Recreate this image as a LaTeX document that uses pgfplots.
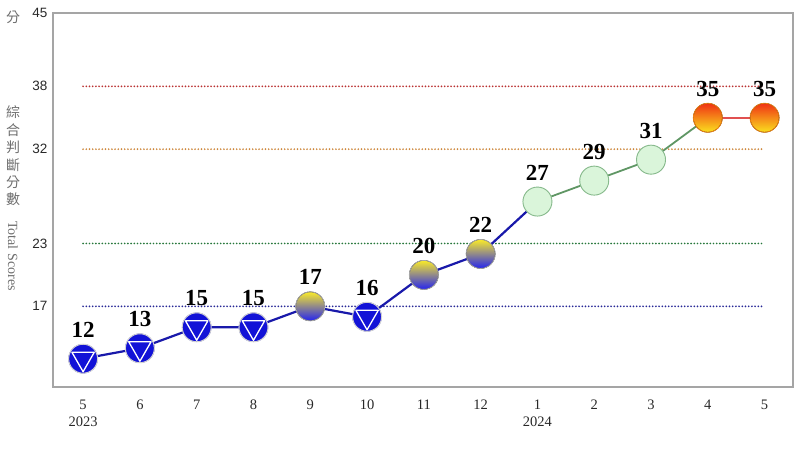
\documentclass[border=0pt]{standalone}
\usepackage{pgfplots}
\pgfplotsset{compat=1.18}
\usepackage{fontspec}
\setmainfont{Liberation Serif}
\newfontfamily\sansf{Liberation Sans}
\newfontfamily\cjk{Noto Sans CJK TC}
\definecolor{axgray}{RGB}{165,165,165}
\definecolor{txt}{RGB}{40,40,40}
\definecolor{lab}{RGB}{110,110,110}
\definecolor{cblue}{RGB}{18,18,215}
\definecolor{lblue}{RGB}{25,25,170}
\definecolor{lgreen}{RGB}{95,150,100}
\definecolor{lred}{RGB}{225,80,80}
\definecolor{h38}{RGB}{185,50,50}
\definecolor{h32}{RGB}{205,135,60}
\definecolor{h23}{RGB}{40,120,60}
\definecolor{h17}{RGB}{40,40,150}
\definecolor{mgreen}{RGB}{218,245,218}
\definecolor{mgreenb}{RGB}{135,185,140}
\definecolor{myellow}{RGB}{250,235,40}
\definecolor{mblueb}{RGB}{35,35,240}
\definecolor{mred}{RGB}{240,50,20}
\definecolor{myel2}{RGB}{250,225,30}
\newcommand\mkblue{%
  \fill[cblue] (canvas cs:x=0pt,y=0pt) circle (14.5pt);
  \draw[gray!35, line width=1pt] (canvas cs:x=0pt,y=0pt) circle (14.5pt);
  \draw[white, line width=1.3pt, line join=round] (canvas cs:x=-11.2pt,y=6.5pt) -- (canvas cs:x=11.2pt,y=6.5pt) -- (canvas cs:x=0pt,y=-13pt) -- cycle;}
\newcommand\mkyb{%
  \shade[top color=myellow, middle color=white!88!gray, bottom color=mblueb] (canvas cs:x=0pt,y=0pt) circle (14.5pt);
  \draw[gray!70, line width=0.8pt] (canvas cs:x=0pt,y=0pt) circle (14.5pt);}
\newcommand\mkgreen{%
  \fill[mgreen] (canvas cs:x=0pt,y=0pt) circle (14.5pt);
  \draw[mgreenb, line width=0.9pt] (canvas cs:x=0pt,y=0pt) circle (14.5pt);}
\newcommand\mkred{%
  \shade[top color=mred, middle color=orange!90!yellow, bottom color=myel2] (canvas cs:x=0pt,y=0pt) circle (14.5pt);
  \draw[orange!70!brown, line width=0.8pt] (canvas cs:x=0pt,y=0pt) circle (14.5pt);}
\pgfplotsset{
  mk/.style={only marks, scatter, mark=*, mark size=0.01pt,
    scatter/@pre marker code/.code={}},
  hl/.style={line width=1.9pt, line cap=round, dash pattern=on 0pt off 3.2pt},
}
\begin{document}
\begin{tikzpicture}
\useasboundingbox (0,0) rectangle (800pt,450pt);
\begin{axis}[
  at={(53pt,63pt)}, anchor=south west,
  scale only axis, width=740pt, height=374pt,
  xmin=-0.53, xmax=12.5, ymin=9.3, ymax=45,
  xtick={0,...,12},
  xticklabels={{5\\2023},6,7,8,9,10,11,12,{1\\2024},2,3,4,5},
  ytick={17,23,32,38,45},
  major tick length=0pt,
  axis line style={draw=axgray, line width=1.5pt},
  /pgf/number format/assume math mode=true,
  xticklabel style={font=\fontsize{14.5}{17.5}\selectfont, align=center, text=txt, yshift=-9pt},
  yticklabel style={font=\sansf\fontsize{13.5}{15}\selectfont, text=txt, xshift=-2pt},
  clip=false,
]
\addplot[h38, hl] coordinates {(0,38) (12,38)};
\addplot[h32, hl] coordinates {(0,32) (12,32)};
\addplot[h23, hl] coordinates {(0,23) (12,23)};
\addplot[h17, hl] coordinates {(0,17) (12,17)};
\addplot[lblue, line width=2.2pt] coordinates {(0,12) (1,13) (2,15) (3,15) (4,17) (5,16) (6,20) (7,22) (8,27)};
\addplot[lgreen, line width=1.8pt] coordinates {(8,27) (9,29) (10,31) (11,35)};
\addplot[lred, line width=1.5pt] coordinates {(11,35) (12,35)};
\addplot[mk, scatter/@post marker code/.code={\mkblue}] coordinates {(0,12) (1,13) (2,15) (3,15) (5,16)};
\addplot[mk, scatter/@post marker code/.code={\mkyb}] coordinates {(4,17) (6,20) (7,22)};
\addplot[mk, scatter/@post marker code/.code={\mkgreen}] coordinates {(8,27) (9,29) (10,31)};
\addplot[mk, scatter/@post marker code/.code={\mkred}] coordinates {(11,35) (12,35)};
\addplot[draw=none, nodes near coords, point meta=explicit symbolic,
  every node near coord/.style={font=\bfseries\fontsize{23}{25}\selectfont, anchor=center, yshift=29pt, text=black}]
  coordinates {(0,12)[12] (1,13)[13] (2,15)[15] (3,15)[15] (4,17)[17] (5,16)[16] (6,20)[20] (7,22)[22] (8,27)[27] (9,29)[29] (10,31)[31] (11,35)[35] (12,35)[35]};
\end{axis}
\node[text=lab, font=\cjk\fontsize{14}{14}\selectfont] at (13pt,433pt) {分};
\node[text=lab, font=\cjk\fontsize{14}{17.4}\selectfont, align=center] at (13pt,294pt) {綜\\合\\判\\斷\\分\\數};
\node[text=lab, font=\fontsize{14}{14}\selectfont, rotate=-90] at (13pt,194pt) {Total Scores};
\end{tikzpicture}
\end{document}
